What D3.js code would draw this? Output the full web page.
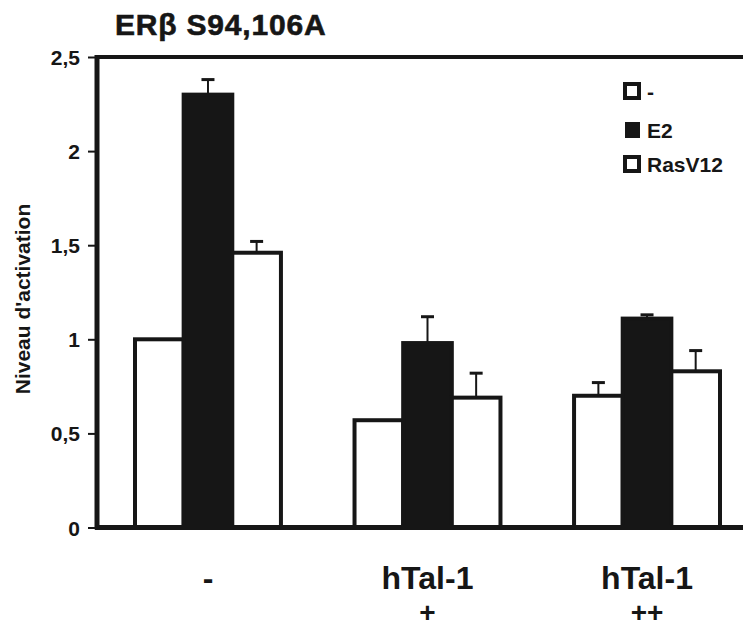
<!DOCTYPE html>
<html><head><meta charset="utf-8">
<script src="https://cdn.jsdelivr.net/npm/d3@7"></script>
<style>body{margin:0;background:#fff}svg{display:block}text{font-family:"Liberation Sans",Arial,sans-serif;font-weight:bold;fill:#161616}</style>
</head><body><svg id="c" width="743" height="628"></svg>
<script>
const categories = [["-"], ["hTal-1", "+"], ["hTal-1", "++"]];
const seriesNames = ["-", "E2", "RasV12"];
const seriesFill = ["#fff", "#161616", "#fff"];
const valuesCtrl = [1.0, 0.57, 0.70];
const valuesE2 = [2.30, 0.98, 1.11];
const valuesRas = [1.46, 0.69, 0.83];
const errCtrl = [0, 0, 0.07];
const errE2 = [0.08, 0.14, 0.02];
const errRas = [0.06, 0.13, 0.11];
const yTicks = [0, 0.5, 1, 1.5, 2, 2.5];
const yTickLabels = ["0", "0,5", "1", "1,5", "2", "2,5"];
const title = "ERβ S94,106A";
const yTitle = "Niveau d'activation";

const ink = "#161616";
const svg = d3.select("#c");
const x0 = 97, yBase = 527.5, yTop = 57;
const y = d3.scaleLinear().domain([0, 2.5]).range([yBase, yTop]);
const gx = d3.scaleBand().domain(d3.range(categories.length)).range([x0, 758]).paddingInner(0.317).paddingOuter(0.164);
const sx = d3.scaleBand().domain(d3.range(3)).range([2, gx.bandwidth() - 2]);

const series = [valuesCtrl, valuesE2, valuesRas];
const errs = [errCtrl, errE2, errRas];

// title
svg.append("text").attr("x", 115).attr("y", 35).attr("font-size", 30).attr("letter-spacing", 0.8)
  .attr("stroke", ink).attr("stroke-width", 0.6).text(title);

// frame top line
svg.append("line").attr("x1", x0).attr("x2", 760).attr("y1", yTop).attr("y2", yTop).attr("stroke", ink).attr("stroke-width", 4);

// bars
series.forEach((vals, s) => {
  vals.forEach((v, i) => {
    const bx = gx(i) + sx(s);
    svg.append("rect").attr("x", bx).attr("y", y(v)).attr("width", sx.bandwidth()).attr("height", yBase - y(v))
      .attr("fill", seriesFill[s]).attr("stroke", ink).attr("stroke-width", 4);
  });
});
// error bars
series.forEach((vals, s) => {
  vals.forEach((v, i) => {
    const e = errs[s][i];
    if (e <= 0) return;
    const cx = gx(i) + sx(s) + sx.bandwidth() / 2;
    svg.append("line").attr("x1", cx).attr("x2", cx).attr("y1", y(v)).attr("y2", y(v + e)).attr("stroke", ink).attr("stroke-width", 2);
    svg.append("line").attr("x1", cx - 6.5).attr("x2", cx + 6.5).attr("y1", y(v + e)).attr("y2", y(v + e)).attr("stroke", ink).attr("stroke-width", 3);
  });
});

// y axis
const ya = d3.axisLeft(y).tickValues(yTicks).tickFormat((d, i) => yTickLabels[i]).tickSize(9).tickPadding(8);
const yg = svg.append("g").attr("transform", `translate(${x0},0)`).call(ya);
yg.attr("font-family", null);
yg.select(".domain").remove();
yg.selectAll(".tick line").attr("stroke", ink).attr("stroke-width", 2);
yg.selectAll(".tick text").attr("font-size", 21).attr("fill", ink).attr("dy", "0.36em");
svg.append("line").attr("x1", x0).attr("x2", x0).attr("y1", yTop - 2).attr("y2", yBase + 2).attr("stroke", ink).attr("stroke-width", 5);
// x axis line
svg.append("line").attr("x1", x0 - 2).attr("x2", 760).attr("y1", yBase).attr("y2", yBase).attr("stroke", ink).attr("stroke-width", 5);

// y title
svg.append("text").attr("transform", `translate(30,299) rotate(-90)`).attr("text-anchor", "middle").attr("font-size", 21).text(yTitle);

// x labels
categories.forEach((lines, i) => {
  const cx = gx(i) + gx.bandwidth() / 2;
  lines.forEach((t, j) => {
    svg.append("text").attr("x", cx).attr("y", j === 0 ? 589 : 622).attr("text-anchor", "middle")
      .attr("font-size", j === 0 ? 32 : 28).text(t);
  });
});

// legend
const ly = [91, 130, 164];
seriesNames.forEach((n, s) => {
  if (s === 1) {
    svg.append("rect").attr("x", 625).attr("y", ly[s] - 8).attr("width", 15).attr("height", 16).attr("fill", ink);
  } else {
    svg.append("rect").attr("x", 625).attr("y", ly[s] - 7).attr("width", 14).attr("height", 14).attr("fill", "#fff").attr("stroke", ink).attr("stroke-width", 4);
  }
  svg.append("text").attr("x", 647).attr("y", ly[s] + 8).attr("font-size", 21).text(n);
});
</script></body></html>
